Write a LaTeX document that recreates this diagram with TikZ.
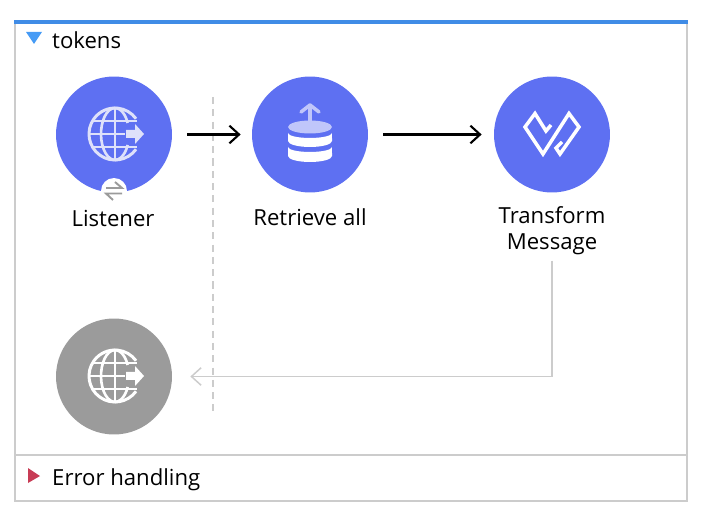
\documentclass[tikz,border=0pt]{standalone}
\usepackage{fontspec}
\setmainfont{Open Sans}
\usetikzlibrary{arrows.meta, positioning, calc}
\definecolor{flowblue}{RGB}{94,112,242}
\definecolor{iconpale}{RGB}{222,225,250}
\definecolor{iconlilac}{RGB}{192,198,250}
\definecolor{stopgray}{RGB}{155,155,155}
\definecolor{framegray}{RGB}{204,204,204}
\definecolor{topblue}{RGB}{64,140,230}
\definecolor{triblue}{RGB}{70,155,245}
\definecolor{errorred}{RGB}{200,60,85}
\tikzset{
  x=0.02cm, y=-0.02cm,
  proc/.style  = {circle, fill=flowblue, minimum size=2.32cm, inner sep=0pt},
  label/.style = {font=\fontsize{12.6}{14.7}\selectfont, align=center},
  arr/.style   = {-{Straight Barb[length=5.5pt,width=10pt]}, line width=1.2pt, color=black},
  back/.style  = {-{Straight Barb[length=5.5pt,width=10pt]}, line width=0.85pt, color=framegray},
  globe/.pic = {
    \draw[line width=1.7pt] (36:26) arc[start angle=-36,end angle=-324,radius=0.52cm];
    \draw[line width=1.5pt] (0,-26) -- (0,26);
    \draw[line width=1.5pt] (12.7,-11) arc[start angle=25,end angle=335,x radius=0.28cm,y radius=0.52cm];
    \draw[line width=1.5pt] (-23,-13) -- (22,-13) (-23,13) -- (22,13) (-26,0) -- (10,0);
    \fill (11,-4) -- (20,-4) -- (20,-10) -- (29,0) -- (20,10) -- (20,4) -- (11,4) -- cycle;
  }
}
\begin{document}
\begin{tikzpicture}
  \useasboundingbox (0,0) rectangle (724,520);

  \node[proc] (listener)  at (114,134.5) {};
  \node[proc] (retrieve)  at (310,134.5) {};
  \node[proc] (transform) at (552,134.5) {};
  \node[proc,fill=stopgray] (response) at (114,376.5) {};

  \node[label] (listenerlabel)  at (113,218) {Listener};
  \node[label] (retrievelabel)  at (310,217.5) {Retrieve all};
  \node[label] (transformlabel) at (552,230.5) {Transform\\Message};

  % frame
  \draw[framegray,line width=1.1pt] (15,22) -- (15,501) -- (687,501) -- (687,22);
  \draw[framegray,line width=1.1pt] (15,455) -- (687,455);
  \fill[topblue] (14,20) rectangle (688,24);
  \fill[triblue] (26,32) -- (42,32) -- (34,44) -- cycle;
  \fill[errorred] (28,468) -- (40,476) -- (28,483) -- cycle;
  \node[label,anchor=west] (tokens) at (46,40) {tokens};
  \node[label,anchor=west] (errorhandling) at (46,479.5) {Error handling};

  % source boundary
  \coordinate (sepa) at (213,97);
  \coordinate (sepb) at (213,412);
  \draw[framegray,line width=0.8pt,dash pattern=on 4pt off 3pt] (sepa) -- (sepb);

  % connectors
  \draw[arr,shorten <=0.3cm,shorten >=0.22cm] (listener) -- (retrieve);
  \draw[arr,shorten <=0.3cm,shorten >=0.24cm] (retrieve) -- (transform);
  \draw[back,shorten >=0.36cm] (transformlabel) |- (response);

  % icons
  \pic[color=iconpale,fill=iconpale] at (115,134) {globe};
  \pic[color=white,fill=white] at (115,376) {globe};

  % source badge
  \node[circle,fill=white,minimum size=0.52cm,inner sep=0pt] (badge) at (114,191) {};
  \draw[stopgray,line width=1.1pt] (106,188) -- (122,188) -- (115,182) (122,193.5) -- (106,193.5) -- (113,200);

  % database
  \draw[iconlilac,line width=2pt,line cap=round] (310,125) -- (310,105) (301,112) -- (310,105) (319,112) -- (310,105);
  \fill[iconlilac] (310,127) ellipse[x radius=0.44cm,y radius=0.13cm];
  \fill[white] (288,133) arc[start angle=180,end angle=360,x radius=0.44cm,y radius=0.1cm] -- (332,141) arc[start angle=0,end angle=-180,x radius=0.44cm,y radius=0.12cm] -- cycle;
  \fill[white] (288,147) arc[start angle=180,end angle=360,x radius=0.44cm,y radius=0.1cm] -- (332,156) arc[start angle=0,end angle=-180,x radius=0.44cm,y radius=0.12cm] -- cycle;

  % transform mark
  \draw[white,line width=2pt,miter limit=8] (551,125) -- (546,131) -- (535,113.5) -- (525,127) -- (543,154) -- (569,113.5) -- (579,127) -- (560,154) -- (556,148) -- (562,142);
\end{tikzpicture}
\end{document}
